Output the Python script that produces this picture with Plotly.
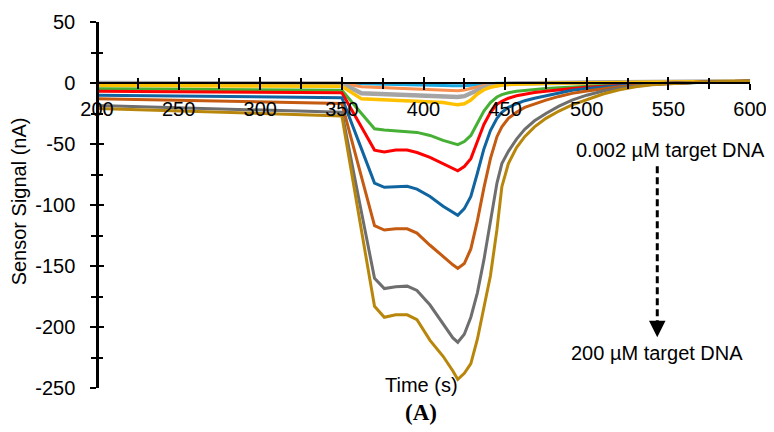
import plotly.graph_objects as go

# Time axis (s)
time_s = [200, 350, 362, 370, 376, 383, 390, 396, 404, 412, 418, 421, 425, 429, 433, 437,
          441, 445, 448, 452, 457, 462, 468, 475, 483, 491, 500, 510, 520, 530, 540, 550,
          565, 580, 600]

# Sensor signal (nA) for each target DNA concentration (lowest -> highest)
s_lightblue = [0.3, 0, -0.6, -0.8, -0.9, -1.0, -1.2, -1.4, -1.7, -2.0, -2.3, -2.5, -2.3, -1.8, -1.3, -0.8,
               -0.5, -0.3, -0.2, -0.1, 0, 0, 0.1, 0.1, 0.2, 0.3, 0.4, 0.5, 0.6, 0.7, 0.8, 0.9,
               1.0, 1.2, 1.5]
s_orange = [0, -0.3, -3.0, -3.4, -3.6, -4.0, -4.4, -4.8, -5.3, -5.8, -6.2, -6.4, -5.8, -4.5, -3.0, -2.0,
            -1.3, -0.8, -0.6, -0.4, -0.2, -0.1, 0, 0.1, 0.2, 0.3, 0.4, 0.5, 0.6, 0.7, 0.8, 0.9,
            1.0, 1.2, 1.5]
s_gray = [0, -0.5, -8.5, -9.0, -9.2, -9.4, -9.6, -10.0, -10.3, -10.8, -11.3, -11.5, -10.8, -8.5, -5.5, -3.5,
          -2.2, -1.4, -1.0, -0.7, -0.4, -0.2, 0, 0.1, 0.2, 0.3, 0.4, 0.5, 0.6, 0.7, 0.8, 0.9,
          1.0, 1.2, 1.5]
s_gold = [-2.0, -2.6, -13.0, -13.5, -13.8, -14.0, -14.2, -14.5, -15.0, -16.0, -17.3, -17.9, -17.0, -14.0, -9.0, -5.5,
          -3.5, -2.2, -1.6, -1.2, -0.9, -0.6, -0.4, -0.2, 0, 0.1, 0.2, 0.3, 0.4, 0.5, 0.6, 0.7,
          0.9, 1.1, 1.5]
s_green = [-4.8, -6.0, -25, -37.5, -38.5, -39.5, -40.0, -40.5, -43.0, -47.0, -49.5, -50.5, -48.0, -43.0, -33.0, -23.0,
           -16.0, -11.5, -9.5, -8.0, -6.8, -6.0, -5.2, -4.5, -3.8, -3.2, -2.6, -2.0, -1.4, -0.9, -0.5, -0.1,
           0.5, 1.0, 1.5]
s_red = [-6.7, -8.0, -36, -55.0, -56.5, -55.0, -55.0, -57.0, -61.0, -66.0, -70.0, -72.0, -68.5, -62.0, -48.0, -34.0,
         -24.0, -17.5, -15.0, -12.5, -10.5, -9.0, -7.8, -6.8, -5.5, -4.5, -3.5, -2.6, -1.8, -1.2, -0.7, -0.2,
         0.5, 1.0, 1.5]
s_blue = [-10.0, -12.0, -54, -82.0, -85.5, -85.0, -84.7, -87.0, -93.0, -101.0, -106.0, -108.5, -103.0, -93.0, -74.0, -54.0,
          -39.0, -29.0, -24.0, -20.0, -17.0, -14.5, -12.5, -10.5, -8.0, -6.0, -4.5, -3.2, -2.2, -1.4, -0.8, -0.2,
          0.5, 1.0, 1.5]
s_brown = [-13.0, -16.8, -77, -117.0, -120.5, -119.5, -119.5, -123.0, -133.0, -142.6, -149.0, -152.0, -148.0, -136.0, -113.0, -86.0,
           -62.0, -44.0, -36.0, -29.0, -24.0, -20.0, -17.0, -14.0, -11.0, -8.5, -6.5, -4.5, -3.0, -1.8, -1.0, -0.3,
           0.5, 1.0, 1.5]
s_dgray = [-18.4, -24.0, -106, -160.0, -168.5, -167.0, -166.5, -170.0, -182.0, -197.0, -209.0, -212.5, -206.0, -192.0, -172.0, -145.0,
           -112.0, -82.0, -66.0, -56.0, -46.0, -38.0, -31.0, -25.0, -19.0, -14.0, -10.0, -6.5, -4.0, -2.2, -1.0, -0.3,
           0.5, 1.0, 1.5]
s_dgold = [-21.0, -27.0, -121, -183.0, -192.0, -190.0, -190.0, -194.0, -211.0, -224.0, -236.0, -243.0, -238.0, -230.0, -210.0, -185.0,
           -158.0, -120.0, -85.0, -66.0, -53.0, -44.0, -36.0, -29.0, -23.0, -18.0, -13.5, -9.0, -5.5, -3.0, -1.5, -0.5,
           0.5, 1.0, 1.5]

# Tick labels
x_ticks = [200, 250, 300, 350, 400, 450, 500, 550, 600]
x_ticklabels = ["200", "250", "300", "350", "400", "450", "500", "550", "600"]
y_ticks = [50, 0, -50, -100, -150, -200, -250]
y_ticklabels = ["50", "0", "-50", "-100", "-150", "-200", "-250"]

series = [
    (s_lightblue, "#1AA7E0", 3),
    (s_orange, "#F88F4F", 3),
    (s_gray, "#A5A5A5", 4.5),
    (s_gold, "#FFC000", 3.5),
    (s_green, "#46B035", 3),
    (s_red, "#FF0000", 3),
    (s_blue, "#1064A0", 3),
    (s_brown, "#C55A11", 3),
    (s_dgray, "#6E6E6E", 3),
    (s_dgold, "#B8860B", 3),
]

fig = go.Figure()
for vals, col, w in series:
    fig.add_trace(go.Scatter(x=time_s, y=vals, mode="lines",
                             line=dict(color=col, width=w), hoverinfo="skip"))

# invisible trace to host the overlay axes (inside half of crossing ticks)
fig.add_trace(go.Scatter(x=time_s, y=s_dgold, xaxis="x2", yaxis="y2", mode="lines",
                         line=dict(width=0), opacity=0, hoverinfo="skip"))

y0_pos = 250 / 300
font = dict(family="Liberation Sans, Arial, sans-serif", size=20, color="black")
minor_out = dict(dtick=25, ticks="outside", ticklen=5, tickwidth=1.5, tickcolor="black")
minor_in = dict(dtick=25, ticks="inside", ticklen=5, tickwidth=1.5, tickcolor="black")

# page body has an 8px default margin, so the figure is 8px smaller on each axis
fig.update_layout(
    width=766, height=424,
    margin=dict(l=89, r=24, t=14, b=44, autoexpand=False),
    plot_bgcolor="white", paper_bgcolor="white",
    showlegend=False, font=font,
    xaxis=dict(range=[200, 600], anchor="free", position=y0_pos,
               tickvals=x_ticks, ticktext=x_ticklabels,
               ticks="outside", ticklen=6, tickwidth=1.5, tickcolor="black",
               showline=True, linecolor="black", linewidth=2, showgrid=False, zeroline=False,
               minor=minor_out, ticklabelstandoff=2, tickfont=font, automargin=False),
    xaxis2=dict(range=[200, 600], overlaying="x", anchor="free", position=y0_pos,
                tickvals=x_ticks, ticks="inside", ticklen=6, tickwidth=1.5, tickcolor="black",
                showticklabels=False, showline=False, showgrid=False, zeroline=False,
                minor=minor_in, automargin=False),
    yaxis=dict(range=[-250, 50], anchor="free", position=0,
               tickvals=y_ticks, ticktext=y_ticklabels,
               ticks="outside", ticklen=6, tickwidth=1.5, tickcolor="black",
               showline=True, linecolor="black", linewidth=2.5, showgrid=False, zeroline=False,
               minor=minor_out, ticklabelstandoff=11, tickfont=font, automargin=False),
    yaxis2=dict(range=[-250, 50], overlaying="y", anchor="free", position=0, side="left",
                tickvals=y_ticks, ticks="inside", ticklen=6, tickwidth=1.5, tickcolor="black",
                showticklabels=False, showline=False, showgrid=False, zeroline=False,
                minor=minor_in, automargin=False),
)

annotations = [
    dict(text="Sensor Signal (nA)", x=-0.1194, y=0.51, xref="paper", yref="paper",
         textangle=-90, showarrow=False, xanchor="center", yanchor="middle", font=font),
    dict(text="Time (s)", x=0.4977, y=0.008, xref="paper", yref="paper",
         showarrow=False, xanchor="center", yanchor="middle", font=font),
    dict(text="<b>(A)</b>", x=0.496, y=-0.068, xref="paper", yref="paper",
         showarrow=False, xanchor="center", yanchor="middle",
         font=dict(family="Liberation Serif, Times New Roman, serif", size=23, color="black")),
    dict(text="0.002 µM target DNA", x=0.879, y=0.650, xref="paper", yref="paper",
         showarrow=False, xanchor="center", yanchor="middle", font=font),
    dict(text="200 µM target DNA", x=0.857, y=0.0955, xref="paper", yref="paper",
         showarrow=False, xanchor="center", yanchor="middle", font=font),
    dict(text="", x=0.858, y=0.139, xref="paper", yref="paper", showarrow=True,
         ax=0, ay=-14, arrowhead=2, arrowsize=1.1, arrowwidth=3, arrowcolor="black", standoff=0),
]
fig.update_layout(annotations=annotations)

fig.add_shape(type="line", xref="paper", yref="paper", x0=0.858, x1=0.858, y0=0.606, y1=0.16,
              line=dict(color="black", width=3, dash="7px,4px"))

fig.write_html("out.html")
